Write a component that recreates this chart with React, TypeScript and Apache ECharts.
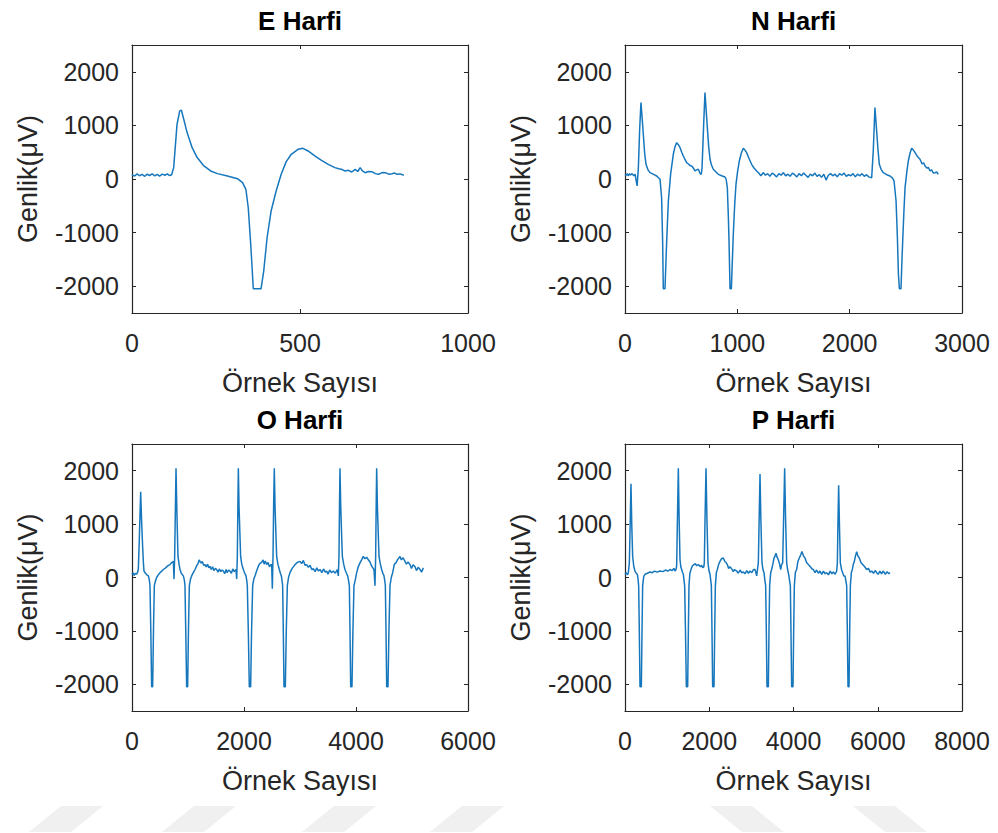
import React, { useEffect, useRef } from 'react';
import * as echarts from 'echarts';

// ---------- data ----------
const panelTitles = ['E Harfi', 'N Harfi', 'O Harfi', 'P Harfi'];
const xAxisTitle = 'Örnek Sayısı';
const yAxisTitle = 'Genlik(μV)';
const xMaxes = [1000, 3000, 6000, 8000];
const xIntervals = [500, 1000, 2000, 2000];
const yTicks = [-2000, -1000, 0, 1000, 2000];
const yMin = -2500;
const yMax = 2500;

const eSignal: number[][] = [
  [0, 80], [8, 55], [15, 95], [22, 60], [30, 85], [38, 50], [45, 90], [52, 65], [60, 95], [68, 60],
  [75, 85], [82, 55], [90, 90], [98, 70], [105, 95], [112, 65], [118, 80], [124, 212], [134, 1020],
  [142, 1270], [147, 1283], [154, 1115], [164, 866], [179, 585], [194, 400], [214, 243], [234, 150],
  [254, 100], [284, 56], [314, 6], [329, -68], [339, -193], [346, -536], [354, -1283], [361, -2048],
  [384, -2048], [392, -1720], [402, -1096], [414, -598], [429, -224], [444, 87], [459, 324], [474, 461],
  [494, 554], [509, 573], [524, 523], [544, 430], [564, 349], [584, 274], [604, 212], [615, 190],
  [624, 181], [634, 150], [644, 162], [654, 130], [664, 181], [672, 140], [679, 212], [686, 150],
  [694, 118], [704, 140], [714, 137], [724, 100], [734, 87], [744, 120], [754, 118], [764, 90],
  [774, 100], [782, 110], [789, 87], [798, 95], [809, 70],
];

const nSignal: number[][] = [
  [0, 87], [10, 70], [20, 100], [30, 60], [40, 95], [50, 75], [60, 100], [70, 80], [80, 60], [90, 90],
  [100, -40], [108, -130], [119, 212], [130, 900], [142, 1427], [152, 1150], [163, 835], [175, 480],
  [187, 274], [205, 170], [223, 118], [250, 90], [282, 56], [312, -6], [326, -349], [335, -1159],
  [341, -2048], [356, -2048], [371, -1159], [386, -411], [406, 87], [430, 461], [445, 600], [460, 679],
  [475, 640], [490, 585], [505, 500], [519, 430], [535, 360], [549, 305], [565, 280], [580, 250],
  [593, 243], [610, 200], [623, 150], [638, 170], [653, 181], [665, 120], [674, 87], [680, 100],
  [686, 212], [700, 1000], [712, 1614], [722, 1300], [733, 959], [745, 600], [757, 368], [770, 260],
  [786, 181], [810, 130], [831, 87], [860, 60], [890, 37], [900, 0], [911, -162], [920, -700],
  [926, -1159], [935, -2048], [947, -2048], [956, -1500], [964, -1034], [976, -500], [988, -100],
  [1003, 150], [1018, 336], [1035, 480], [1053, 573], [1068, 540], [1083, 492], [1100, 400],
  [1115, 330], [1127, 274], [1150, 200], [1172, 150], [1190, 110], [1210, 60], [1230, 120],
  [1250, 70], [1270, 100], [1290, 50], [1310, 110], [1330, 80], [1350, 40], [1370, 100], [1390, 70],
  [1410, 120], [1430, 60], [1450, 90], [1470, 50], [1490, 110], [1510, 80], [1530, 40], [1550, 100],
  [1570, 60], [1590, 110], [1610, 70], [1630, 30], [1650, 90], [1670, 60], [1690, 110], [1710, 50],
  [1730, 80], [1750, 30], [1770, 90], [1790, -20], [1810, 70], [1830, 100], [1850, 60], [1870, 90],
  [1890, 40], [1910, 100], [1930, 70], [1950, 110], [1970, 50], [1990, 80], [2010, 60], [2030, 100],
  [2050, 40], [2070, 90], [2090, 60], [2110, 100], [2130, 50], [2150, 80], [2170, 40], [2196, 25],
  [2210, 523], [2225, 1333], [2240, 897], [2252, 550], [2264, 274], [2280, 180], [2299, 118],
  [2330, 80], [2359, 56], [2380, 20], [2395, -37], [2413, -411], [2425, -1100], [2434, -1782],
  [2443, -2048], [2457, -2048], [2464, -1600], [2472, -1159], [2483, -600], [2493, -162], [2508, 120],
  [2522, 336], [2537, 480], [2552, 573], [2567, 540], [2582, 492], [2600, 430], [2626, 368],
  [2645, 280], [2660, 300], [2671, 243], [2690, 200], [2700, 220], [2715, 150], [2730, 170],
  [2745, 110], [2760, 118], [2775, 130], [2789, 87],
];

const oSignal: number[][] = [
  [0, 60], [20, 90], [40, 40], [60, 80], [83, 60], [100, 100], [113, 150], [130, 700], [155, 1606],
  [170, 1100], [190, 576], [205, 250], [214, 121], [240, 80], [265, 50], [292, 30], [310, -50],
  [321, -150], [336, -1000], [351, -2048], [369, -2048], [385, -900], [399, -151], [420, -60], [440, 0],
  [470, 50], [500, 90], [530, 120], [560, 150], [600, 180], [640, 220], [678, 242], [710, 280],
  [738, 303], [750, -30], [762, 394], [775, 1300], [786, 2047], [800, 1300], [821, 394], [840, 250],
  [857, 150], [880, 80], [917, 30], [935, -50], [946, -150], [960, -1000], [976, -2048], [994, -2048],
  [1008, -1000], [1024, -151], [1045, -30], [1065, 30], [1095, 90], [1125, 150], [1155, 220],
  [1184, 273], [1200, 330], [1214, 303], [1235, 270], [1255, 300], [1280, 230], [1304, 242],
  [1325, 200], [1350, 250], [1370, 180], [1393, 212], [1415, 150], [1440, 200], [1460, 130],
  [1490, 170], [1512, 150], [1535, 100], [1560, 160], [1585, 110], [1610, 140], [1631, 121],
  [1655, 70], [1680, 150], [1700, 90], [1725, 140], [1750, 121], [1775, 80], [1800, 160], [1825, 110],
  [1857, 150], [1869, -30], [1881, 394], [1890, 1300], [1899, 2047], [1912, 1300], [1940, 394],
  [1960, 250], [1988, 150], [2010, 90], [2036, 30], [2048, -50], [2059, -150], [2077, -1000],
  [2095, -2048], [2119, -2048], [2135, -1000], [2155, -151], [2175, -30], [2196, 30], [2225, 120],
  [2256, 212], [2280, 260], [2315, 285], [2340, 330], [2360, 250], [2380, 310], [2405, 242],
  [2430, 280], [2455, 200], [2480, 240], [2494, 242], [2506, -212], [2518, 394], [2530, 1400],
  [2541, 2047], [2555, 1300], [2583, 394], [2605, 250], [2631, 150], [2650, 80], [2667, 30],
  [2678, -50], [2690, -150], [2702, -1000], [2714, -2048], [2738, -2048], [2755, -1000], [2774, -151],
  [2795, 0], [2821, 91], [2860, 170], [2911, 242], [2950, 280], [3000, 303], [3030, 260], [3060, 320],
  [3090, 230], [3119, 242], [3150, 190], [3180, 230], [3210, 150], [3238, 164], [3270, 110],
  [3300, 180], [3330, 120], [3357, 150], [3390, 90], [3420, 160], [3450, 100], [3476, 121], [3500, 60],
  [3530, 140], [3560, 90], [3595, 121], [3630, 80], [3666, 150], [3684, 30], [3696, 394], [3705, 1300],
  [3714, 2047], [3728, 1300], [3756, 394], [3780, 250], [3803, 150], [3830, 80], [3851, 30],
  [3866, -50], [3881, -150], [3893, -1000], [3905, -2048], [3928, -2048], [3945, -1000], [3964, -151],
  [3990, -30], [4012, 91], [4040, 200], [4071, 273], [4100, 330], [4131, 394], [4160, 350], [4190, 380],
  [4220, 333], [4250, 290], [4280, 212], [4321, 150], [4339, -152], [4351, 394], [4360, 1300],
  [4369, 2047], [4383, 1300], [4411, 394], [4435, 250], [4458, 150], [4480, 80], [4500, 30],
  [4512, -50], [4524, -150], [4536, -1000], [4548, -2048], [4571, -2048], [4588, -1000], [4607, -151],
  [4630, 0], [4655, 91], [4685, 250], [4714, 273], [4740, 330], [4786, 394], [4810, 330], [4840, 370],
  [4875, 303], [4900, 250], [4930, 290], [4964, 242], [4990, 170], [5020, 240], [5054, 200],
  [5080, 130], [5110, 190], [5143, 150], [5170, 100], [5202, 180],
];

const pSignal: number[][] = [
  [0, 60], [30, 90], [60, 50], [79, 91], [103, 273], [120, 900], [142, 1757], [160, 1000], [182, 394],
  [210, 200], [237, 121], [265, 80], [293, 60], [310, -30], [324, -152], [340, -1000], [356, -2048],
  [388, -2048], [404, -1000], [419, -152], [445, 20], [475, 60], [530, 80], [593, 103], [650, 90],
  [700, 120], [760, 100], [831, 121], [900, 110], [960, 140], [1020, 120], [1068, 150], [1120, 130],
  [1160, 170], [1187, 121], [1210, 150], [1226, 212], [1245, 1100], [1266, 2047], [1285, 1100],
  [1306, 333], [1325, 200], [1345, 150], [1365, 100], [1385, 60], [1400, -50], [1416, -152],
  [1436, -1000], [1456, -2048], [1488, -2048], [1504, -1000], [1519, -152], [1540, 80], [1567, 150],
  [1600, 220], [1638, 242], [1670, 260], [1700, 220], [1741, 242], [1790, 200], [1820, 230],
  [1844, 182], [1870, 200], [1883, 273], [1900, 1100], [1923, 2047], [1945, 1100], [1970, 273],
  [1995, 120], [2018, 60], [2035, -50], [2050, -152], [2065, -1000], [2081, -2048], [2113, -2048],
  [2129, -1000], [2145, -152], [2170, 100], [2192, 150], [2225, 250], [2255, 303], [2290, 350],
  [2334, 364], [2370, 300], [2400, 280], [2429, 242], [2460, 170], [2490, 200], [2532, 164],
  [2570, 110], [2600, 150], [2651, 121], [2690, 80], [2730, 140], [2770, 90], [2809, 103], [2850, 70],
  [2890, 130], [2930, 80], [2967, 121], [3010, 90], [3050, 150], [3086, 150], [3126, 30], [3165, 273],
  [3185, 1100], [3205, 1939], [3225, 1100], [3252, 273], [3275, 150], [3300, 91], [3320, -50],
  [3339, -152], [3355, -1000], [3371, -2048], [3403, -2048], [3418, -1000], [3434, -152], [3460, 100],
  [3482, 150], [3510, 250], [3537, 364], [3560, 400], [3585, 455], [3610, 380], [3640, 333],
  [3670, 250], [3696, 150], [3720, 250], [3743, 273], [3765, 1100], [3790, 2047], [3812, 1100],
  [3838, 273], [3860, 150], [3885, 60], [3905, -50], [3925, -152], [3940, -1000], [3956, -2048],
  [3988, -2048], [4004, -1000], [4020, -152], [4045, 100], [4075, 150], [4105, 300], [4138, 364],
  [4170, 420], [4201, 485], [4240, 400], [4273, 364], [4310, 280], [4352, 242], [4400, 200],
  [4440, 160], [4471, 150], [4510, 90], [4550, 140], [4590, 80], [4629, 121], [4670, 60], [4710, 120],
  [4750, 70], [4787, 91], [4830, 50], [4870, 120], [4910, 70], [4946, 103], [4990, 60], [5025, 121],
  [5041, 273], [5055, 1000], [5072, 1727], [5090, 1000], [5112, 273], [5140, 150], [5167, 91],
  [5195, 30], [5223, 30], [5240, -50], [5262, -152], [5278, -1000], [5294, -2048], [5318, -2048],
  [5334, -1000], [5350, -152], [5375, 100], [5397, 150], [5420, 250], [5445, 303], [5470, 400],
  [5500, 485], [5530, 400], [5563, 364], [5600, 280], [5643, 242], [5690, 200], [5737, 150],
  [5780, 170], [5820, 100], [5856, 121], [5900, 80], [5940, 130], [5975, 91], [6010, 60], [6050, 120],
  [6090, 70], [6133, 121], [6180, 60], [6220, 110], [6260, 70], [6291, 91],
];

const signals = [eSignal, nSignal, oSignal, pSignal];

// ---------- layout ----------
const grids = [
  { left: 132, top: 45, width: 336, height: 268 },
  { left: 625, top: 45, width: 337, height: 268 },
  { left: 132, top: 444, width: 336, height: 267 },
  { left: 625, top: 444, width: 337, height: 267 },
];

const AXIS_COLOR = '#262626';
const LINE_COLOR = '#1677bd';
const FONT = '"Liberation Sans", Arial, sans-serif';

export default function App() {
  const ref = useRef<HTMLDivElement>(null);

  useEffect(() => {
    if (!ref.current) return;
    const chart = echarts.init(ref.current, null, { renderer: 'svg' });

    const xAxes: any[] = [];
    const yAxes: any[] = [];
    const series: any[] = [];
    const graphics: any[] = [];

    grids.forEach((g, i) => {
      const common = {
        type: 'value',
        gridIndex: i,
        splitLine: { show: false },
        axisLine: { show: true, onZero: false, lineStyle: { color: AXIS_COLOR, width: 1.2 } },
      };
      xAxes.push({
        ...common,
        position: 'bottom',
        min: 0,
        max: xMaxes[i],
        interval: xIntervals[i],
        axisTick: { show: true, inside: true, length: 4, lineStyle: { color: AXIS_COLOR } },
        axisLabel: {
          show: true,
          color: AXIS_COLOR,
          fontSize: 25,
          fontFamily: FONT,
          margin: 30,
          verticalAlign: 'middle',
          formatter: (v: number) => String(v),
        },
      });
      xAxes.push({
        ...common,
        position: 'top',
        min: 0,
        max: xMaxes[i],
        interval: xIntervals[i],
        axisTick: { show: true, inside: true, length: 4, lineStyle: { color: AXIS_COLOR } },
        axisLabel: { show: false },
      });
      yAxes.push({
        ...common,
        position: 'left',
        min: yMin,
        max: yMax,
        interval: 500,
        axisTick: {
          show: true,
          inside: true,
          length: 4,
          customValues: yTicks,
          lineStyle: { color: AXIS_COLOR },
        },
        axisLabel: {
          show: true,
          color: AXIS_COLOR,
          fontSize: 25,
          fontFamily: FONT,
          margin: 13,
          customValues: yTicks,
          formatter: (v: number) => String(v),
        },
      });
      yAxes.push({
        ...common,
        position: 'right',
        min: yMin,
        max: yMax,
        interval: 500,
        axisTick: {
          show: true,
          inside: true,
          length: 4,
          customValues: yTicks,
          lineStyle: { color: AXIS_COLOR },
        },
        axisLabel: { show: false },
      });

      series.push({
        type: 'line',
        xAxisIndex: 2 * i,
        yAxisIndex: 2 * i,
        data: signals[i],
        showSymbol: false,
        symbol: 'none',
        lineStyle: { color: LINE_COLOR, width: 1.5 },
        clip: true,
      });

      const cx = g.left + g.width / 2;
      const cy = g.top + g.height / 2;
      graphics.push({
        type: 'text',
        x: cx,
        y: g.top - 24,
        style: {
          text: panelTitles[i],
          fontSize: 26,
          fontWeight: 'bold',
          fontFamily: FONT,
          fill: '#000',
          align: 'center',
          verticalAlign: 'middle',
        },
      });
      graphics.push({
        type: 'text',
        x: cx,
        y: g.top + g.height + 70,
        style: {
          text: xAxisTitle,
          fontSize: 27,
          fontFamily: FONT,
          fill: AXIS_COLOR,
          align: 'center',
          verticalAlign: 'middle',
        },
      });
      graphics.push({
        type: 'text',
        x: g.left - 104,
        y: cy,
        rotation: Math.PI / 2,
        style: {
          text: yAxisTitle,
          fontSize: 27,
          fontFamily: FONT,
          fill: AXIS_COLOR,
          align: 'center',
          verticalAlign: 'middle',
        },
      });
    });

    // faint watermark stripes at the bottom of the page
    const slashX = [29, 162, 302, 430];
    slashX.forEach((x0) => {
      graphics.push({
        type: 'polygon',
        silent: true,
        shape: { points: [[x0, 832], [x0 + 42, 832], [x0 + 74, 806], [x0 + 32, 806]] },
        style: { fill: '#f0f0f0' },
      });
    });
    const backX = [710, 853];
    backX.forEach((x0) => {
      graphics.push({
        type: 'polygon',
        silent: true,
        shape: { points: [[x0, 806], [x0 + 42, 806], [x0 + 74, 832], [x0 + 32, 832]] },
        style: { fill: '#f0f0f0' },
      });
    });

    chart.setOption({
      animation: false,
      backgroundColor: '#ffffff',
      grid: grids.map((g) => ({ ...g, containLabel: false })),
      xAxis: xAxes,
      yAxis: yAxes,
      series,
      graphic: graphics,
    });

    return () => chart.dispose();
  }, []);

  return (
    <div
      ref={ref}
      style={{ position: 'absolute', left: 0, top: 0, width: 998, height: 833 }}
    />
  );
}
